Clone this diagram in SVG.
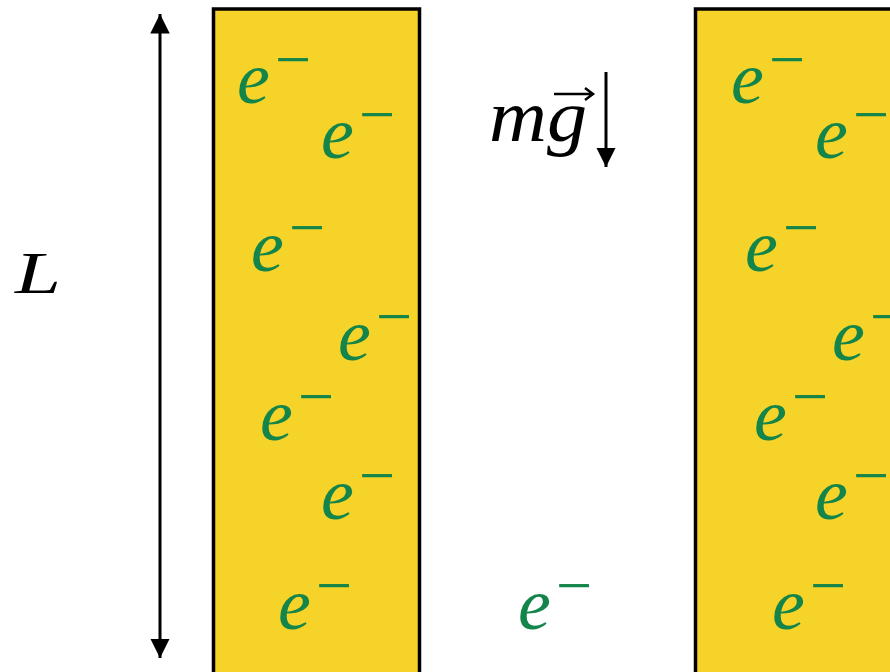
<svg xmlns="http://www.w3.org/2000/svg" width="890" height="672" viewBox="0 0 890 672">
<defs>
<style>
.slab{fill:#F5D329;stroke:#000;stroke-width:3.5}
.e{font-family:"Liberation Serif","DejaVu Serif",serif;font-style:italic;font-size:74px;fill:#13844A}
.m{font-family:"Liberation Serif","DejaVu Serif",serif;font-style:normal;font-size:64px;fill:#13844A}
.lab{font-family:"Liberation Serif","DejaVu Serif",serif;font-style:italic;font-size:74px;fill:#000}
.conn{stroke:#000;stroke-width:3;fill:none}
</style>
<marker id="ah" viewBox="0 0 10 10" refX="10" refY="5" markerWidth="6.5" markerHeight="6.5" orient="auto-start-reverse" markerUnits="strokeWidth">
<path d="M0,0 L10,5 L0,10 Z" fill="#000"/>
</marker>
</defs>
<g id="slab-left"><rect class="slab" x="213.5" y="9" width="206" height="670"/></g>
<g id="slab-right"><rect class="slab" x="695.5" y="9" width="220" height="670"/></g>
<g id="connectors">
<line class="conn" x1="160" y1="14" x2="160" y2="658" marker-start="url(#ah)" marker-end="url(#ah)"/>
<line class="conn" x1="606" y1="72" x2="606" y2="167" marker-end="url(#ah)"/>
</g>
<g id="label-L"><text class="lab" x="15" y="293" style="font-size:60px" textLength="46" lengthAdjust="spacingAndGlyphs">L</text></g>
<g id="label-mg">
<text class="lab" x="489" y="141" textLength="98" lengthAdjust="spacingAndGlyphs">mg</text>
<path d="M554,94 H592 M585,88 L593,94 L585,100" stroke="#000" stroke-width="2.5" fill="none"/>
</g>
<g id="electrons-left">
<text class="e" x="237" y="103">e<tspan class="m" x="275" y="81">−</tspan></text>
<text class="e" x="321" y="158">e<tspan class="m" x="359" y="136">−</tspan></text>
<text class="e" x="251" y="271">e<tspan class="m" x="289" y="249">−</tspan></text>
<text class="e" x="338" y="360">e<tspan class="m" x="376" y="338">−</tspan></text>
<text class="e" x="260" y="440">e<tspan class="m" x="298" y="418">−</tspan></text>
<text class="e" x="321" y="519">e<tspan class="m" x="359" y="497">−</tspan></text>
<text class="e" x="278" y="629">e<tspan class="m" x="316" y="607">−</tspan></text>
</g>
<g id="electron-free">
<text class="e" x="518" y="629">e<tspan class="m" x="556" y="607">−</tspan></text>
</g>
<g id="electrons-right">
<text class="e" x="731" y="103">e<tspan class="m" x="769" y="81">−</tspan></text>
<text class="e" x="815" y="158">e<tspan class="m" x="853" y="136">−</tspan></text>
<text class="e" x="745" y="271">e<tspan class="m" x="783" y="249">−</tspan></text>
<text class="e" x="832" y="360">e<tspan class="m" x="870" y="338">−</tspan></text>
<text class="e" x="754" y="440">e<tspan class="m" x="792" y="418">−</tspan></text>
<text class="e" x="815" y="519">e<tspan class="m" x="853" y="497">−</tspan></text>
<text class="e" x="772" y="629">e<tspan class="m" x="810" y="607">−</tspan></text>
</g>
</svg>
